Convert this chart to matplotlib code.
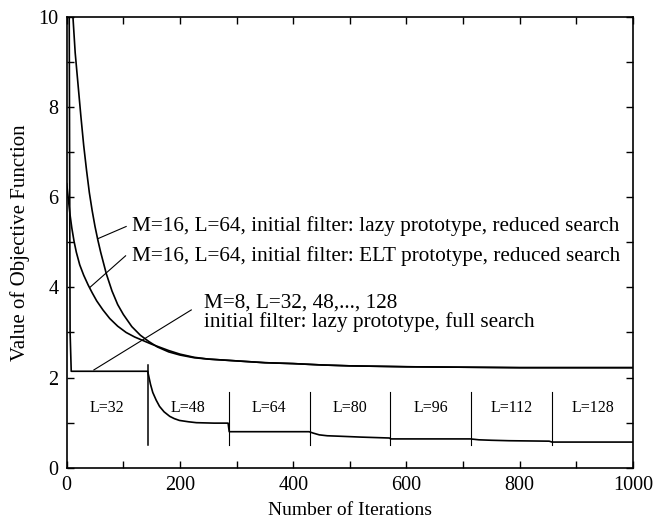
import matplotlib
matplotlib.use("Agg")
import matplotlib.pyplot as plt
from matplotlib.ticker import MultipleLocator

plt.rcParams["font.family"] = ["Liberation Serif", "DejaVu Serif"]

# M=16, L=64, lazy prototype, reduced search
lazy_x = [8, 11, 15, 20, 25, 30, 35, 40, 45, 50, 55, 60, 70, 80, 90, 100, 115,
          130, 145, 160, 180, 200, 225, 250, 300, 350, 400, 450, 500, 600, 700,
          800, 1000]
lazy_y = [11.2, 10.0, 9.2, 8.5, 7.8, 7.15, 6.6, 6.1, 5.7, 5.35, 5.05, 4.78, 4.3,
          3.92, 3.62, 3.4, 3.13, 2.94, 2.8, 2.68, 2.57, 2.5, 2.44, 2.41, 2.37,
          2.33, 2.31, 2.28, 2.26, 2.24, 2.23, 2.22, 2.22]

# M=16, L=64, ELT prototype, reduced search
elt_x = [0, 3, 6, 9, 13, 17, 23, 30, 38, 45, 53, 64, 76, 90, 105, 120, 135, 150,
         165, 180, 200, 225, 250, 300, 350, 400, 450, 500, 600, 700, 800, 1000]
elt_y = [6.3, 5.95, 5.6, 5.32, 5.02, 4.78, 4.5, 4.27, 4.05, 3.88, 3.7, 3.5, 3.31,
         3.14, 3.0, 2.9, 2.82, 2.74, 2.67, 2.6, 2.52, 2.45, 2.41, 2.37, 2.33,
         2.31, 2.28, 2.26, 2.24, 2.23, 2.22, 2.22]

# M=8, L=32..128, lazy prototype, full search
full_x = [4, 6, 8, 143, 148, 152, 158, 164, 172, 182, 190, 199, 215, 229, 260,
          285, 287, 428, 435, 446, 460, 481, 520, 570, 572, 713, 728, 750, 781,
          852, 857, 1000]
full_y = [12.0, 3.0, 2.14, 2.14, 1.85, 1.67, 1.5, 1.36, 1.24, 1.14, 1.09, 1.05,
          1.02, 1.0, 0.99, 0.99, 0.8, 0.8, 0.77, 0.73, 0.71, 0.7, 0.68, 0.66,
          0.64, 0.64, 0.62, 0.61, 0.6, 0.59, 0.57, 0.57]

# filter length segments
seg_edges = [0, 143, 286, 429, 571, 714, 857, 1000]
seg_labels = ["L=32", "L=48", "L=64", "L=80", "L=96", "L=112", "L=128"]

fig = plt.figure(figsize=(6.67, 5.25), dpi=100)
ax = fig.add_axes([0.1, 0.109, 0.849, 0.859])

lw = 1.2
ax.plot(lazy_x, lazy_y, color="black", lw=lw)
ax.plot(elt_x, elt_y, color="black", lw=lw)
ax.plot(full_x, full_y, color="black", lw=lw)

# segment separators
for i, e in enumerate(seg_edges[1:-1]):
    top = 2.28 if i == 0 else 1.69
    ax.plot([e, e], [0.51, top], color="black", lw=1.1 if i == 0 else 0.8)
for i, lab in enumerate(seg_labels):
    xm = (seg_edges[i] + seg_edges[i + 1]) / 2
    ax.text(xm, 1.33, lab, ha="center", va="center", fontsize=11.5)

# annotations with leader lines
fs = 15.3
ax.plot([55, 105], [5.08, 5.35], color="black", lw=0.8)
ax.text(116, 5.35, "M=16, L=64, initial filter: lazy prototype, reduced search",
        ha="left", va="center", fontsize=fs)
ax.plot([41, 104], [4.0, 4.7], color="black", lw=0.8)
ax.text(116, 4.7, "M=16, L=64, initial filter: ELT prototype, reduced search",
        ha="left", va="center", fontsize=fs)
ax.plot([48, 220], [2.17, 3.5], color="black", lw=0.8)
ax.text(243, 3.66, "M=8, L=32, 48,..., 128", ha="left", va="center", fontsize=fs)
ax.text(243, 3.24, "initial filter: lazy prototype, full search",
        ha="left", va="center", fontsize=fs)

ax.set_xlim(0, 1000)
ax.set_ylim(0, 10)
ax.xaxis.set_major_locator(MultipleLocator(200))
ax.xaxis.set_minor_locator(MultipleLocator(100))
ax.yaxis.set_major_locator(MultipleLocator(2))
ax.yaxis.set_minor_locator(MultipleLocator(1))
ax.tick_params(which="both", direction="in", top=True, right=True,
               length=5, width=1.0, labelsize=14.5, pad=6)
for s in ax.spines.values():
    s.set_linewidth(1.2)
ax.set_xlabel("Number of Iterations", fontsize=14, labelpad=5)
ax.set_ylabel("Value of Objective Function", fontsize=15, labelpad=6)

fig.savefig("out.png", dpi=100)
